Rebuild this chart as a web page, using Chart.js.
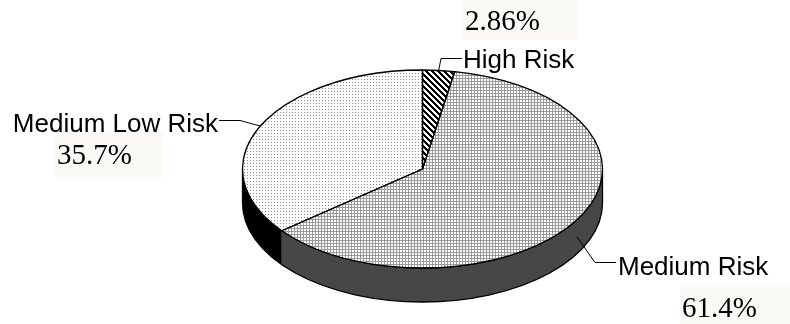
<!DOCTYPE html>
<html>
<head>
<meta charset="utf-8">
<script src="https://cdn.jsdelivr.net/npm/chart.js@4/dist/chart.umd.min.js"></script>
<style>
  html, body { margin: 0; padding: 0; background: #ffffff; }
  #wrap { position: relative; width: 790px; height: 324px; }
</style>
</head>
<body>
<div id="wrap"><canvas id="pie"></canvas></div>
<script>
// Risk distribution (share of cases, %)
const categories = ['High Risk', 'Medium Risk', 'Medium Low Risk'];
const shares = [2.86, 61.4, 35.7];
const percentLabels = ['2.86%', '61.4%', '35.7%'];

// Ellipse geometry of the tilted disc
const CX = 422.5, CY = 169, RX = 180, RY = 99, DEPTH = 34;
const K = RY / RX;

// Fill patterns for the top face
function makeTile(w, h, painter) {
  const c = document.createElement('canvas');
  c.width = w; c.height = h;
  const g = c.getContext('2d');
  painter(g, w, h);
  return c;
}
const ctx0 = document.createElement('canvas').getContext('2d');
const stripeTile = makeTile(6, 6, (g, w, h) => {
  g.fillStyle = '#ffffff'; g.fillRect(0, 0, w, h);
  g.fillStyle = '#000000';
  for (let y = 0; y < h; y++) for (let x = 0; x < w; x++) {
    if ((((x - y) % 6) + 6) % 6 < 3) g.fillRect(x, y, 1, 1);
  }
});
const gridTile = makeTile(3, 3, (g, w, h) => {
  g.fillStyle = '#ffffff'; g.fillRect(0, 0, w, h);
  g.fillStyle = '#9a9a9a';
  g.fillRect(0, 0, w, 1); g.fillRect(0, 0, 1, h);
});
const dotTile = makeTile(3, 3, (g, w, h) => {
  g.fillStyle = '#ffffff'; g.fillRect(0, 0, w, h);
  g.fillStyle = '#8a8a8a';
  g.fillRect(1, 1, 1, 1);
});
const patterns = [
  ctx0.createPattern(stripeTile, 'repeat'),
  ctx0.createPattern(gridTile, 'repeat'),
  ctx0.createPattern(dotTile, 'repeat')
];
const wallColors = ['#000000', '#474747', '#000000'];

function applyDisc(ctx, arc) {
  ctx.translate(CX, CY);
  ctx.scale(1, K);
  ctx.translate(-arc.x, -arc.y);
}

const discPlugin = {
  id: 'disc3d',
  beforeDatasetsDraw(chart) {
    const ctx = chart.ctx;
    const arcs = chart.getDatasetMeta(0).data;
    // side walls: only the front half (0..PI) is visible
    arcs.forEach((arc, i) => {
      const a = Math.max(arc.startAngle, 0);
      const b = Math.min(arc.endAngle, Math.PI);
      if (b <= a) return;
      ctx.save();
      ctx.beginPath();
      ctx.ellipse(CX, CY, RX, RY, 0, a, b, false);
      ctx.ellipse(CX, CY + DEPTH, RX, RY, 0, b, a, true);
      ctx.closePath();
      ctx.fillStyle = wallColors[i];
      ctx.fill();
      ctx.restore();
    });
    // outer outline of the wall
    ctx.save();
    ctx.beginPath();
    ctx.ellipse(CX, CY, RX, RY, 0, 0, Math.PI, false);
    ctx.ellipse(CX, CY + DEPTH, RX, RY, 0, Math.PI, 0, true);
    ctx.closePath();
    ctx.lineWidth = 1.3;
    ctx.strokeStyle = '#000000';
    ctx.stroke();
    ctx.restore();

    // squash the pie into the top face
    ctx.save();
    applyDisc(ctx, arcs[0]);
    const inv = ctx.getTransform().inverse();
    patterns.forEach(p => p.setTransform(inv));
  },
  afterDatasetsDraw(chart) {
    const ctx = chart.ctx;
    ctx.restore();
    const arcs = chart.getDatasetMeta(0).data;
    ctx.save();
    ctx.lineWidth = 1.3;
    ctx.strokeStyle = '#000000';
    ctx.lineJoin = 'round';
    arcs.forEach(arc => {
      ctx.save();
      applyDisc(ctx, arc);
      ctx.beginPath();
      ctx.moveTo(arc.x, arc.y);
      ctx.arc(arc.x, arc.y, arc.outerRadius, arc.startAngle, arc.endAngle);
      ctx.closePath();
      ctx.restore();
      ctx.stroke();
    });
    ctx.restore();
  },
  afterDraw(chart) {
    const ctx = chart.ctx;
    const arcs = chart.getDatasetMeta(0).data;
    const anchor = (i, drop) => {
      const arc = arcs[i];
      const m = (arc.startAngle + arc.endAngle) / 2;
      return [CX + RX * Math.cos(m), CY + RY * Math.sin(m) + drop];
    };
    const boxes = [
      { x: 461, y: 0, w: 116, h: 40 },
      { x: 680, y: 287, w: 110, h: 37 },
      { x: 55, y: 132, w: 108, h: 45 }
    ];
    // leader elbows and label placement per slice
    const layout = [
      { drop: 0, elbow: [441, 58], end: [462, 58], name: [463, 68, 'left'], pct: [465, 30] },
      { drop: DEPTH / 2, elbow: [595, 262], end: [616, 262], name: [618, 275, 'left'], pct: [682, 317] },
      { drop: 0, elbow: [240, 120], end: [219, 120], name: [218, 132, 'right'], pct: [57, 164] }
    ];
    ctx.save();
    boxes.forEach(b => {
      ctx.fillStyle = '#faf9f6';
      ctx.fillRect(b.x, b.y, b.w, b.h);
    });
    ctx.strokeStyle = '#000000';
    ctx.lineWidth = 1;
    ctx.fillStyle = '#000000';
    ctx.textBaseline = 'alphabetic';
    layout.forEach((L, i) => {
      const [ax, ay] = anchor(i, L.drop);
      ctx.beginPath();
      ctx.moveTo(ax, ay);
      ctx.lineTo(L.elbow[0], L.elbow[1] + 0.5);
      ctx.lineTo(L.end[0], L.end[1] + 0.5);
      ctx.stroke();
      ctx.font = '26px "Liberation Sans", Arial, sans-serif';
      ctx.textAlign = L.name[2];
      ctx.fillText(categories[i], L.name[0], L.name[1]);
      ctx.font = '29px "Liberation Serif", "Times New Roman", serif';
      ctx.textAlign = 'left';
      ctx.fillText(percentLabels[i], L.pct[0], L.pct[1]);
    });
    ctx.restore();
  }
};

new Chart(document.getElementById('pie'), {
  type: 'pie',
  data: {
    labels: categories,
    datasets: [{
      data: shares,
      backgroundColor: patterns,
      borderWidth: 0,
      radius: RX,
      clip: false
    }]
  },
  options: {
    responsive: true,
    maintainAspectRatio: false,
    animation: false,
    events: [],
    rotation: 0,
    plugins: {
      legend: { display: false },
      tooltip: { enabled: false }
    }
  },
  plugins: [discPlugin]
});
</script>
</body>
</html>
